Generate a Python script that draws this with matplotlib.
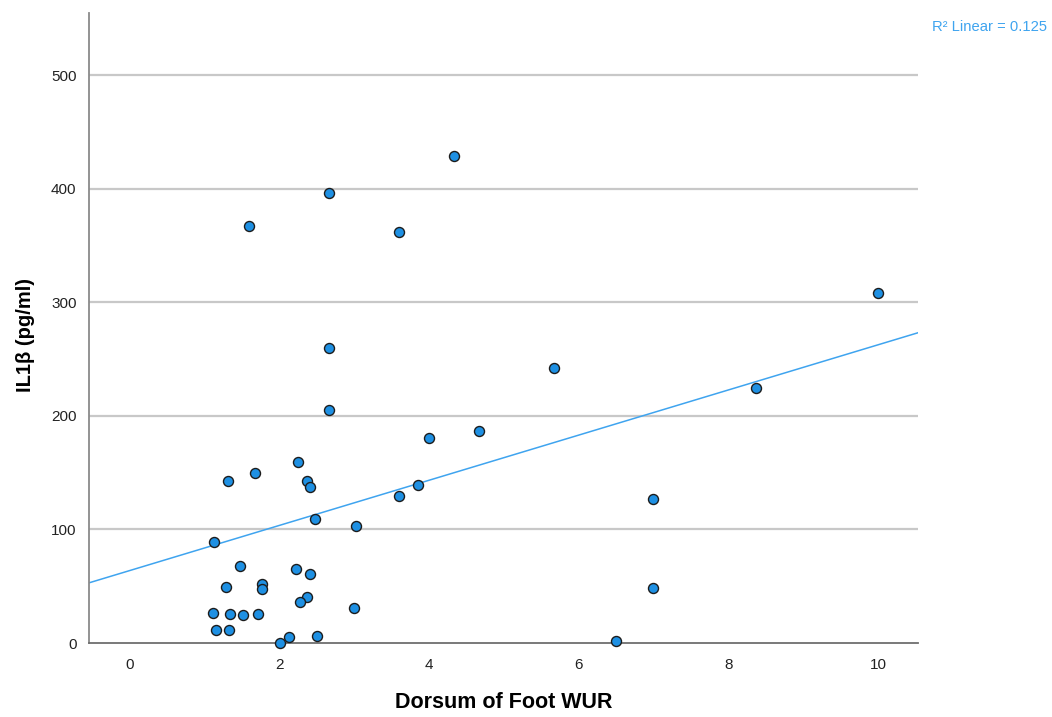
import numpy as np
import matplotlib.pyplot as plt

# Dorsum of foot WUR vs IL1b
wur = [4.33, 2.66, 1.59, 3.60, 10.0, 2.66, 5.66, 8.37, 2.66, 4.67,
       4.00, 2.25, 1.67, 1.31, 2.37, 2.41, 3.85, 3.60, 6.99, 2.47,
       3.02, 1.12, 1.47, 2.22, 2.41, 1.28, 1.76, 1.76, 6.99, 2.37,
       2.27, 2.99, 1.11, 1.34, 1.51, 1.71, 1.15, 1.32, 2.13, 2.50,
       2.00, 6.50]
il1b = [428.6, 396, 367, 362, 308.6, 260, 242.5, 225, 205.5, 187,
        181, 159.6, 150, 143, 143, 137, 139, 129.6, 127, 109,
        103, 89, 68, 65, 61, 49, 52, 48, 48.5, 40.6,
        36, 31, 26.5, 25.6, 24.7, 25.6, 11.5, 11.5, 5.3, 6,
        0, 1.8]
r2_text = "R\u00b2 Linear = 0.125"

fig = plt.figure(figsize=(10.52, 7.17), dpi=100)
ax = fig.add_axes([0.0846, 0.1032, 0.788, 0.8787])

xmin, xmax = -0.548, 10.53
ax.set_xlim(xmin, xmax)
ax.set_ylim(0, 555)

ax.set_yticks([0, 100, 200, 300, 400, 500])
ax.set_xticks([0, 2, 4, 6, 8, 10])
for yv in [100, 200, 300, 400, 500]:
    ax.axhline(yv, color='#c8c8c8', lw=1.6, zorder=1)

# least squares fit line across the full x range
slope, icpt = np.polyfit(wur, il1b, 1)
xs = np.array([xmin, xmax])
ax.plot(xs, icpt + slope * xs, color='#3fa4ef', lw=1.1, zorder=2)

ax.scatter(wur, il1b, s=52, c='#1e90e3', edgecolors='#1c1c1c',
           linewidths=1.0, zorder=3, clip_on=False)

for s in ['top', 'right']:
    ax.spines[s].set_visible(False)
ax.spines['left'].set_color('#8a8a8a')
ax.spines['left'].set_linewidth(1.3)
ax.spines['bottom'].set_color('#6e6e6e')
ax.spines['bottom'].set_linewidth(1.3)
ax.tick_params(length=0, labelsize=11, colors='#222222')
ax.tick_params(axis='y', pad=9)
ax.tick_params(axis='x', pad=11)
for lab in ax.get_xticklabels() + ax.get_yticklabels():
    lab.set_family(['Liberation Sans', 'DejaVu Sans'])

ax.set_xlabel('Dorsum of Foot WUR', fontsize=15.5, fontweight='bold',
              family=['Liberation Sans', 'DejaVu Sans'], va='center')
ax.xaxis.set_label_coords(0.5, -0.095)
ax.set_ylabel('IL1\u03b2 (pg/ml)', fontsize=14.5, fontweight='bold',
              family=['Liberation Sans', 'DejaVu Sans'], va='center')
ax.yaxis.set_label_coords(-0.076, 0.489)

fig.text(0.995, 0.962, r2_text, ha='right', va='center', fontsize=10.6,
         color='#3fa4ef', family=['Liberation Sans', 'DejaVu Sans'])

fig.savefig('out.png', dpi=100)
